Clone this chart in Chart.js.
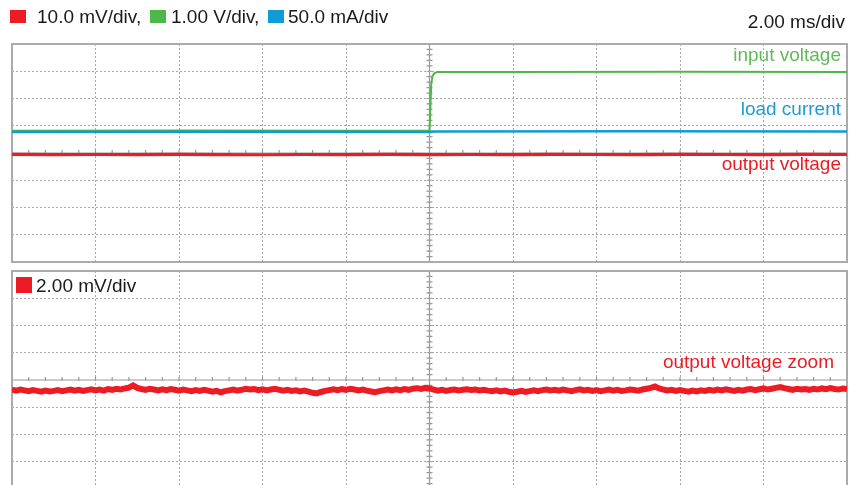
<!DOCTYPE html>
<html>
<head>
<meta charset="utf-8">
<script src="https://cdn.jsdelivr.net/npm/chart.js@4.4.1/dist/chart.umd.min.js"></script>
<style>
  html, body { margin: 0; width: 852px; height: 485px; overflow: hidden; background: #fff;
    font-family: "Liberation Sans", Arial, sans-serif; }
  .t { position: absolute; font-size: 19px; line-height: 19px; white-space: nowrap; color: #1a1a1a; }
  .box { position: absolute; width: 16px; height: 13px; }
  #topChart { position: absolute; left: 0; top: 0; }
  #botChart { position: absolute; left: 0; top: 262px; }
</style>
</head>
<body>
<canvas id="topChart" width="852" height="270"></canvas>
<canvas id="botChart" width="852" height="230"></canvas>

<div class="box" style="left:10px;top:10px;background:#ed1c24"></div>
<div class="t" style="left:37px;top:7px">10.0 mV/div,</div>
<div class="box" style="left:150px;top:10px;background:#4db848"></div>
<div class="t" style="left:171px;top:7px">1.00 V/div,</div>
<div class="box" style="left:268px;top:10px;background:#0f9bd7"></div>
<div class="t" style="left:288px;top:7px">50.0 mA/div</div>
<div class="t" style="right:7px;top:12px">2.00 ms/div</div>

<div class="t" style="right:11px;top:45px;color:#62b957">input voltage</div>
<div class="t" style="right:11px;top:99px;color:#1e9ad6">load current</div>
<div class="t" style="right:11px;top:154px;color:#ed1c24">output voltage</div>

<div class="box" style="left:16px;top:277px;width:16px;height:16px;background:#ed1c24"></div>
<div class="t" style="left:36px;top:276px">2.00 mV/div</div>
<div class="t" style="right:18px;top:352px;color:#ed1c24">output voltage zoom</div>

<script>
// time base: 2 ms/div, 10 divisions, trigger at centre
const X_MIN = -10, X_MAX = 10, X_STEP = 2;
const Y_DIVS = 4;

// channel scales (units per division)
const OUT_MV_PER_DIV = 10;
const IN_V_PER_DIV = 1;
const LOAD_MA_PER_DIV = 50;
const ZOOM_MV_PER_DIV = 2;

// input voltage step (V, relative to screen centre)
const inputTimes = [-10, -6, -2, 0, 0.02, 0.04, 0.07, 0.12, 0.2, 2, 6, 10];
const inputVolts = [0.82, 0.83, 0.82, 0.82, 1.6, 2.5, 2.82, 2.93, 2.97, 2.97, 2.98, 2.97];

// load current (mA, relative to screen centre)
const loadTimes = [-10, -5, 0, 0.1, 5, 10];
const loadMa = [38.5, 38.8, 38.5, 39.5, 39.8, 39.5];

// output voltage, 10 mV/div (mV), one reading per ms
const outTimes = [-10, -9, -8, -7, -6, -5, -4, -3, -2, -1, 0, 1, 2, 3, 4, 5, 6, 7, 8, 9, 10];
const outMv = [-0.5, -0.6, -0.55, -0.6, -0.5, -0.6, -0.65, -0.55, -0.6, -0.5, -0.6,
  -0.55, -0.6, -0.5, -0.55, -0.6, -0.5, -0.55, -0.6, -0.5, -0.55];

// output voltage zoom, 2 mV/div (mV), one reading per 0.1 ms from -10 ms
const zoomMv = [
  -0.72, -0.78, -0.70, -0.76, -0.82, -0.74, -0.80, -0.86, -0.78, -0.84,
  -0.80, -0.74, -0.82, -0.76, -0.70, -0.78, -0.72, -0.80, -0.74, -0.68,
  -0.76, -0.70, -0.78, -0.66, -0.72, -0.64, -0.70, -0.62, -0.56, -0.40,
  -0.58, -0.66, -0.72, -0.64, -0.70, -0.76, -0.68, -0.74, -0.66, -0.72,
  -0.78, -0.70, -0.76, -0.82, -0.74, -0.80, -0.72, -0.78, -0.86, -0.80,
  -0.90, -0.82, -0.76, -0.70, -0.78, -0.72, -0.64, -0.70, -0.66, -0.74,
  -0.68, -0.76, -0.70, -0.64, -0.72, -0.78, -0.72, -0.80, -0.76, -0.84,
  -0.78, -0.86, -0.94, -0.98, -0.88, -0.80, -0.74, -0.68, -0.74, -0.66,
  -0.72, -0.64, -0.70, -0.76, -0.70, -0.78, -0.84, -0.90, -0.82, -0.76,
  -0.70, -0.76, -0.68, -0.74, -0.66, -0.72, -0.64, -0.60, -0.66, -0.58,
  -0.62, -0.70, -0.78, -0.72, -0.80, -0.74, -0.70, -0.76, -0.72, -0.68,
  -0.74, -0.70, -0.76, -0.72, -0.78, -0.82, -0.76, -0.84, -0.78, -0.86,
  -0.92, -0.86, -0.80, -0.88, -0.82, -0.76, -0.82, -0.74, -0.70, -0.76,
  -0.72, -0.78, -0.70, -0.76, -0.82, -0.74, -0.68, -0.76, -0.72, -0.80,
  -0.74, -0.82, -0.76, -0.70, -0.78, -0.72, -0.80, -0.76, -0.70, -0.74,
  -0.78, -0.70, -0.64, -0.58, -0.48, -0.62, -0.70, -0.76, -0.72, -0.80,
  -0.74, -0.80, -0.86, -0.78, -0.84, -0.76, -0.80, -0.72, -0.78, -0.70,
  -0.76, -0.68, -0.74, -0.80, -0.72, -0.78, -0.70, -0.66, -0.74, -0.68,
  -0.62, -0.70, -0.64, -0.58, -0.52, -0.60, -0.66, -0.72, -0.64, -0.70,
  -0.66, -0.72, -0.64, -0.70, -0.62, -0.68, -0.60, -0.66, -0.70, -0.62, -0.66
];
const zoomTimes = zoomMv.map((_, i) => Math.round((X_MIN + i * 0.1) * 10) / 10);

const RED = "#ed1c24", GREEN = "#4db848", BLUE = "#0f9bd7";

const toPoints = (times, vals, perDiv) => times.map((t, i) => ({ x: t, y: vals[i] / perDiv }));

// frame + solid centre axes with minor ticks, like a scope graticule
const graticulePlugin = {
  id: "graticule",
  beforeDatasetsDraw(chart) {
    const { ctx, chartArea: a, scales } = chart;
    const cx = scales.x.getPixelForValue(0);
    const cy = scales.y.getPixelForValue(0);
    ctx.save();
    ctx.strokeStyle = "#999";
    ctx.lineWidth = 1.2;
    ctx.beginPath();
    ctx.moveTo(a.left, cy); ctx.lineTo(a.right, cy);
    ctx.moveTo(cx, a.top); ctx.lineTo(cx, a.bottom);
    for (let v = -Y_DIVS; v <= Y_DIVS + 1e-9; v += 0.2) {
      const y = scales.y.getPixelForValue(v);
      ctx.moveTo(cx - 3, y); ctx.lineTo(cx + 3, y);
    }
    for (let t = X_MIN; t <= X_MAX + 1e-9; t += X_STEP / 5) {
      const x = scales.x.getPixelForValue(t);
      ctx.moveTo(x, cy - 3); ctx.lineTo(x, cy + 1);
    }
    ctx.stroke();
    ctx.strokeStyle = "#ababab";
    ctx.lineWidth = 2;
    ctx.strokeRect(a.left, a.top, a.right - a.left, a.bottom - a.top);
    ctx.restore();
  },
};

function gridColor(edge) {
  return (c) => (c.tick.value === 0 || Math.abs(c.tick.value) === edge ? "transparent" : "#a8a8a8");
}

function makeOptions(padding) {
  return {
    responsive: false,
    animation: false,
    layout: { padding },
    plugins: { legend: { display: false }, tooltip: { enabled: false } },
    elements: { point: { radius: 0 }, line: { tension: 0 } },
    scales: {
      x: {
        type: "linear", min: X_MIN, max: X_MAX,
        ticks: { display: false, stepSize: X_STEP },
        grid: { color: gridColor(X_MAX), lineWidth: 1, drawTicks: false },
        border: { display: false, dash: [2, 2] },
      },
      y: {
        min: -Y_DIVS, max: Y_DIVS,
        ticks: { display: false, stepSize: 1 },
        grid: { color: gridColor(Y_DIVS), lineWidth: 1, drawTicks: false },
        border: { display: false, dash: [2, 2] },
      },
    },
  };
}

new Chart(document.getElementById("topChart"), {
  type: "line",
  data: {
    datasets: [
      { label: "output voltage", data: toPoints(outTimes, outMv, OUT_MV_PER_DIV), borderColor: RED, borderWidth: 3.2 },
      { label: "load current", data: toPoints(loadTimes, loadMa, LOAD_MA_PER_DIV), borderColor: BLUE, borderWidth: 2.5 },
      { label: "input voltage", data: toPoints(inputTimes, inputVolts, IN_V_PER_DIV), borderColor: GREEN, borderWidth: 2 },
    ],
  },
  options: makeOptions({ left: 12, top: 44, right: 5, bottom: 8 }),
  plugins: [graticulePlugin],
});

new Chart(document.getElementById("botChart"), {
  type: "line",
  data: {
    datasets: [
      { label: "output voltage zoom", data: toPoints(zoomTimes, zoomMv, ZOOM_MV_PER_DIV), borderColor: RED, borderWidth: 6 },
    ],
  },
  options: makeOptions({ left: 12, top: 9, right: 5, bottom: 3 }),
  plugins: [graticulePlugin],
});
</script>
</body>
</html>
